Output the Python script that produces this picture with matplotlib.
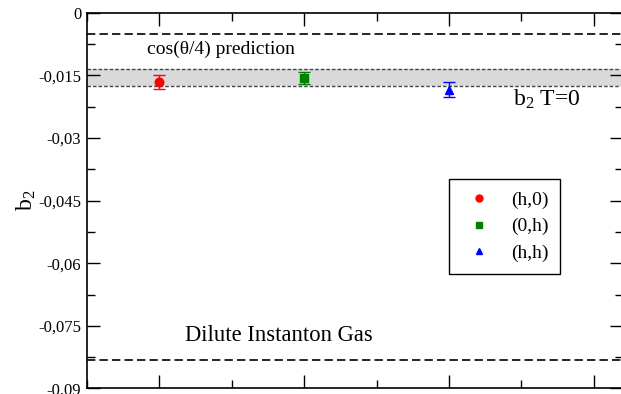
import matplotlib.pyplot as plt
from matplotlib.lines import Line2D
from matplotlib.ticker import MultipleLocator, FuncFormatter

# b2 estimates for the three directions
labels = ['(h,0)', '(0,h)', '(h,h)']
x_pos = [1, 2, 3]
b2 = [-0.0166, -0.0156, -0.0184]
b2_err = [0.0016, 0.0015, 0.0017]
colors = ['#ff0000', '#008000', '#0000ff']
markers = ['o', 's', '^']

# reference values
band_t0 = [-0.0175, -0.0136]   # b2 at T=0
cos_pred = -0.0051              # cos(theta/4) prediction
dig = -0.0831                   # dilute instanton gas

plt.rcParams['font.family'] = ['Liberation Serif', 'DejaVu Serif']
plt.rcParams['mathtext.fontset'] = 'custom'
plt.rcParams['mathtext.rm'] = 'Liberation Serif'
plt.rcParams['mathtext.it'] = 'Liberation Serif:italic'

fig = plt.figure(figsize=(6.21, 3.94), dpi=100)
ax = fig.add_axes([0.1396, 0.014, 0.8634, 0.9538])

ax.axhspan(band_t0[0], band_t0[1], color='#d9d9d9', lw=0, zorder=0)
for y in band_t0:
    ax.axhline(y, color='#444444', lw=1.0, ls=(0, (2.5, 1.5)), zorder=1)
ax.axhline(cos_pred, color='black', lw=1.2, ls=(0, (5, 2.5)), zorder=1)
ax.axhline(dig, color='black', lw=1.2, ls=(0, (5, 2.5)), zorder=1)

msizes = [6.2, 5.5, 6.2]
for x, y, e, c, m, ms in zip(x_pos, b2, b2_err, colors, markers, msizes):
    ax.errorbar(x, y, yerr=e, fmt=m, color=c, ms=ms, elinewidth=1.0,
                capsize=4, capthick=1.0, zorder=3)

ax.text(0.916, -0.0099, 'cos(\u03b8/4) prediction', fontsize=14)
ax.text(3.44, -0.0222, r'b$_2$ T=0', fontsize=17)
ax.text(1.178, -0.0787, 'Dilute Instanton Gas', fontsize=16.3)

ax.set_xlim(0.5, 4.2)
ax.set_ylim(-0.09, 0)
ax.xaxis.set_major_locator(MultipleLocator(1))
ax.xaxis.set_minor_locator(MultipleLocator(0.5))
ax.yaxis.set_major_locator(MultipleLocator(0.015))
ax.yaxis.set_minor_locator(MultipleLocator(0.0075))
ax.yaxis.set_major_formatter(FuncFormatter(
    lambda v, p: '0' if abs(v) < 1e-9 else f'{v:g}'.replace('.', ',')))
ax.tick_params(which='both', direction='in', top=True, right=True,
               labelbottom=False, width=1.0, labelsize=12, pad=4)
ax.tick_params(which='major', length=9.2)
ax.tick_params(which='minor', length=6)
for s in ax.spines.values():
    s.set_linewidth(1.2)

ax.set_ylabel(r'b$_2$', fontsize=17, labelpad=0)

handles = [Line2D([], [], ls='none', marker=m, color=c, ms=ms - 1.2, label=l)
           for m, c, ms, l in zip(markers, colors, msizes, labels)]
leg = ax.legend(handles=handles, loc='upper left',
                bbox_to_anchor=(449 / 621, 1 - 179.3 / 394),
                bbox_transform=fig.transFigure, borderaxespad=0,
                fancybox=False, edgecolor='black', framealpha=1,
                fontsize=14, handlelength=1.8, handletextpad=0.75,
                labelspacing=0.45, borderpad=0.62)
leg.get_frame().set_linewidth(1.0)

plt.savefig('out.png', dpi=100)
